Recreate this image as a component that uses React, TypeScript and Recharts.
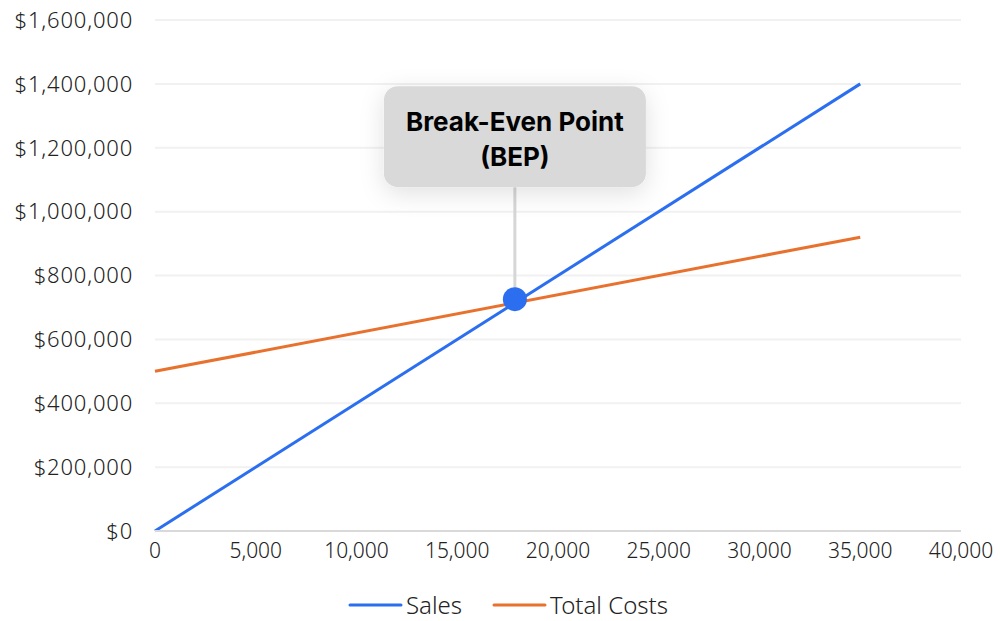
import {
  LineChart,
  Line,
  XAxis,
  YAxis,
  CartesianGrid,
  Legend,
  ReferenceDot,
} from "recharts";

// units sold
const volumes = [0, 35000];
const salesValues = [0, 1400000];
const costValues = [500000, 920000];

const xTicks = [0, 5000, 10000, 15000, 20000, 25000, 30000, 35000, 40000];
const yTicks = [0, 200000, 400000, 600000, 800000, 1000000, 1200000, 1400000, 1600000];

const bepUnits = 17860;
const bepRevenue = 726000;
const bepLabel = ["Break-Even Point", "(BEP)"];

const BLUE = "#2b6ff0";
const ORANGE = "#e8712e";
const FONT = "'Noto Sans', sans-serif";

const data = volumes.map((v, i) => ({
  units: v,
  sales: salesValues[i],
  costs: costValues[i],
}));

const fmtMoney = (v: number) => "$" + v.toLocaleString("en-US");
const fmtNum = (v: number) => v.toLocaleString("en-US");

function BepMarker(props: any) {
  const { cx, cy } = props;
  if (cx == null || cy == null) return null;
  const w = 262;
  const h = 101;
  const top = cy - 213;
  return (
    <g>
      <line x1={cx} y1={top + h} x2={cx} y2={cy} stroke="#d6d6d6" strokeWidth={3} />
      <rect
        x={cx - w / 2}
        y={top}
        width={w}
        height={h}
        rx={14}
        fill="#d9d9d9"
        filter="url(#bepShadow)"
      />
      {bepLabel.map((t, i) => (
        <text
          key={t}
          x={cx}
          y={top + 35 + i * 35}
          textAnchor="middle"
          dominantBaseline="central"
          fontFamily="Inter, sans-serif"
          fontWeight={700}
          fontSize={26}
          fill="#000"
        >
          {t}
        </text>
      ))}
      <circle cx={cx} cy={cy} r={12} fill={BLUE} />
    </g>
  );
}

function LegendContent() {
  const items = [
    { name: "Sales", color: BLUE },
    { name: "Total Costs", color: ORANGE },
  ];
  return (
    <div
      style={{
        display: "flex",
        justifyContent: "center",
        alignItems: "center",
        height: 32,
        lineHeight: "32px",
        gap: 30,
        fontFamily: FONT,
        fontWeight: 300,
        fontSize: 24,
        color: "#222",
        paddingLeft: 55,
      }}
    >
      {items.map((it) => (
        <div key={it.name} style={{ display: "flex", alignItems: "center" }}>
          <svg width={55} height={6} style={{ marginRight: 3 }}>
            <line x1={2} y1={3} x2={53} y2={3} stroke={it.color} strokeWidth={3} strokeLinecap="round" />
          </svg>
          <span>{it.name}</span>
        </div>
      ))}
    </div>
  );
}

export default function App() {
  return (
    <div style={{ position: "absolute", left: 0, top: 0, background: "#fff" }}>
      <LineChart
        width={1000}
        height={621}
        data={data}
        margin={{ top: 20, right: 39, left: 0, bottom: 0 }}
      >
        <defs>
          <filter id="bepShadow" x="-40%" y="-40%" width="180%" height="200%">
            <feDropShadow dx={0} dy={6} stdDeviation={12} floodColor="#000" floodOpacity={0.12} />
          </filter>
        </defs>
        <CartesianGrid vertical={false} stroke="#f1f1f1" strokeWidth={2} />
        <XAxis
          dataKey="units"
          type="number"
          domain={[0, 40000]}
          ticks={xTicks}
          tickFormatter={fmtNum}
          axisLine={{ stroke: "#d9d9d9", strokeWidth: 2 }}
          tickLine={false}
          tickSize={0}
          tickMargin={12}
          height={58}
          interval={0}
          tick={{ fontFamily: FONT, fontWeight: 300, fontSize: 21, fill: "#222" }}
        />
        <YAxis
          type="number"
          domain={[0, 1600000]}
          ticks={yTicks}
          tickFormatter={fmtMoney}
          axisLine={false}
          tickLine={false}
          tickSize={0}
          tickMargin={22}
          width={155}
          interval={0}
          tick={{ fontFamily: FONT, fontWeight: 300, fontSize: 22, letterSpacing: 0.8, fill: "#222" }}
        />
        <Legend verticalAlign="bottom" content={<LegendContent />} />
        <Line
          type="linear"
          dataKey="sales"
          name="Sales"
          stroke={BLUE}
          strokeWidth={3}
          dot={false}
          activeDot={false}
          isAnimationActive={false}
        />
        <Line
          type="linear"
          dataKey="costs"
          name="Total Costs"
          stroke={ORANGE}
          strokeWidth={3}
          dot={false}
          activeDot={false}
          isAnimationActive={false}
        />
        <ReferenceDot x={bepUnits} y={bepRevenue} r={12} shape={BepMarker} ifOverflow="visible" />
      </LineChart>
    </div>
  );
}
